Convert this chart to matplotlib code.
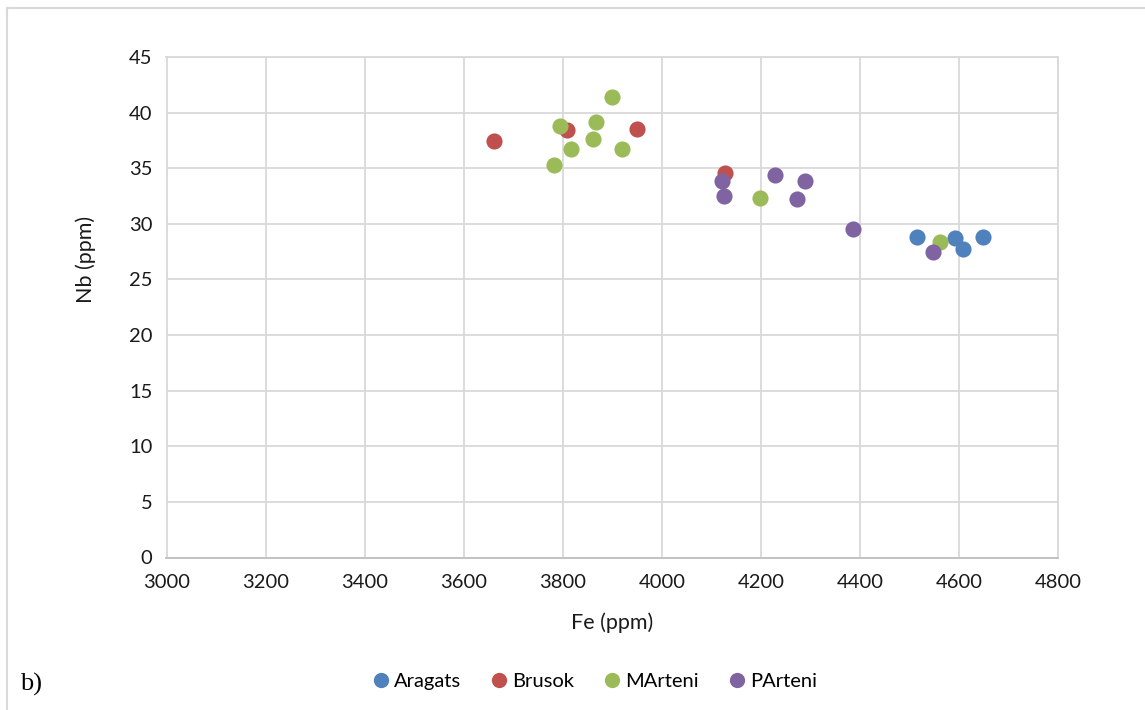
import matplotlib
matplotlib.use("Agg")
import matplotlib.pyplot as plt
from matplotlib.lines import Line2D

plt.rcParams['font.family'] = ['Lato', 'DejaVu Sans']

aragats_fe = [4516, 4593, 4608, 4648]
aragats_nb = [28.85, 28.75, 27.7, 28.85]

brusok_fe = [3662, 3808, 3950, 4127]
brusok_nb = [37.45, 38.45, 38.55, 34.6]

marteni_fe = [3783, 3795, 3817, 3862, 3867, 3899, 3920, 4199, 4561]
marteni_nb = [35.3, 38.8, 36.7, 37.65, 39.15, 41.4, 36.75, 32.3, 28.4]

parteni_fe = [4122, 4125, 4229, 4274, 4289, 4386, 4548]
parteni_nb = [33.85, 32.5, 34.4, 32.2, 33.85, 29.5, 27.45]

series_names = ["Aragats", "Brusok", "MArteni", "PArteni"]
colors = ["#4F81BD", "#C0504D", "#9BBB59", "#8064A2"]

W, H = 1145, 710
fig = plt.figure(figsize=(W / 100, H / 100), dpi=100)
ax = fig.add_axes([166.5 / W, 1 - 557.5 / H, (1058 - 166.5) / W, (557.5 - 57) / H])

data = [(aragats_fe, aragats_nb), (brusok_fe, brusok_nb),
        (marteni_fe, marteni_nb), (parteni_fe, parteni_nb)]
for (x, y), c, n in zip(data, colors, series_names):
    ax.scatter(x, y, s=135, color=c, label=n, zorder=3, linewidths=0)

ax.set_xlim(3000, 4800)
ax.set_ylim(0, 45)
ax.set_xticks(range(3000, 4801, 200))
ax.set_yticks(range(0, 46, 5))
ax.grid(True, color="#d9d9d9", linewidth=1.3, zorder=0)
ax.set_axisbelow(True)
for s in ax.spines.values():
    s.set_color("#d9d9d9")
    s.set_linewidth(1.3)
ax.spines['bottom'].set_color("#bfbfbf")
ax.tick_params(length=0, labelsize=14.5, labelcolor="#1a1a1a", pad=10)
ax.tick_params(axis='x', pad=12)

fig.text(612 / W, 1 - 623 / H, "Fe (ppm)", ha="center", va="center", fontsize=15.5, color="#1a1a1a")
fig.text(86 / W, 1 - 259 / H, "Nb (ppm)", ha="center", va="center", rotation=90, fontsize=15.5, color="#1a1a1a")

handles = [Line2D([], [], marker='o', linestyle='none', markersize=11, markerfacecolor=c,
                  markeredgewidth=0) for c in colors]
fig.legend(handles, series_names, loc="center", bbox_to_anchor=(594 / W, 1 - 681 / H), ncol=4,
           frameon=False, fontsize=14.5, handletextpad=0.15, columnspacing=1.4, handlelength=1.0)

fig.text(20 / W, 1 - 684 / H, "b)", ha="left", va="center", fontsize=19, family="Liberation Serif")

# outer border lines
fig.add_artist(Line2D([7 / W, 7 / W], [0, 1 - 8 / H], color="#d9d9d9", linewidth=1.5, transform=fig.transFigure))
fig.add_artist(Line2D([7 / W, 1], [1 - 8 / H, 1 - 8 / H], color="#d9d9d9", linewidth=1.5, transform=fig.transFigure))

fig.savefig("out.png", dpi=100, facecolor="white")
